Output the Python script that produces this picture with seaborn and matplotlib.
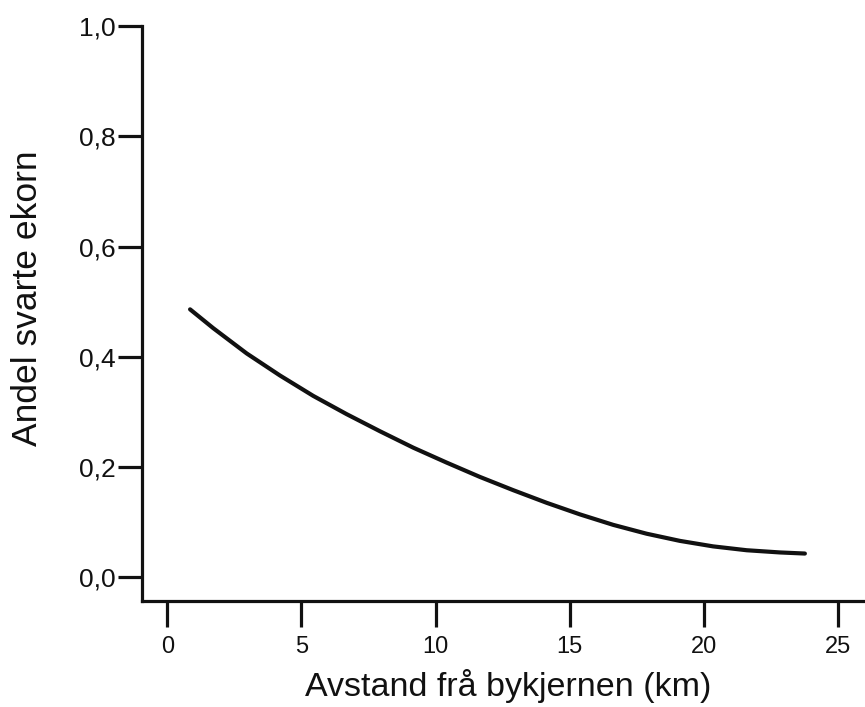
import pandas as pd
import matplotlib.pyplot as plt
import matplotlib.ticker as mticker
import seaborn as sns

# Verdiar lest av frå figuren
avstand_km = [0.85, 1.71, 2.96, 4.20, 5.44, 6.68, 7.92, 9.17, 10.41, 11.65,
              12.89, 14.14, 15.38, 16.62, 17.86, 19.10, 20.34, 21.59, 22.83, 23.76]
andel_svarte = [0.486, 0.452, 0.406, 0.366, 0.329, 0.296, 0.265, 0.235, 0.208, 0.182,
                0.158, 0.135, 0.114, 0.095, 0.079, 0.066, 0.056, 0.049, 0.045, 0.043]
x_ticks = [0, 5, 10, 15, 20, 25]
y_ticks = [0.0, 0.2, 0.4, 0.6, 0.8, 1.0]

data = pd.DataFrame({'avstand': avstand_km, 'andel': andel_svarte})

sns.set_style("ticks")
plt.rcParams['font.family'] = ['Liberation Sans', 'DejaVu Sans']

fig = plt.figure(figsize=(8.65, 7.07), dpi=100)
ax = fig.add_axes([0.1642, 0.150, 0.8358, 0.8132])

sns.lineplot(x='avstand', y='andel', data=data, ax=ax, color='#111111',
             linewidth=3.0)

ax.set_xlim(-0.94, 26)
ax.set_ylim(-0.043, 1.0)
ax.set_xticks(x_ticks)
ax.set_yticks(y_ticks)
ax.yaxis.set_major_formatter(mticker.FuncFormatter(lambda v, p: f"{v:.1f}".replace('.', ',')))

sns.despine(ax=ax)
for side in ['left', 'bottom']:
    ax.spines[side].set_linewidth(2.3)
    ax.spines[side].set_color('#111111')

ax.tick_params(axis='y', length=17, width=2.3, pad=2, labelsize=19, colors='#111111')
ax.tick_params(axis='x', length=19, width=2.3, pad=6, labelsize=17, colors='#111111')

ax.set_xlabel('Avstand frå bykjernen (km)', fontsize=24.5, labelpad=7, color='#111111')
ax.set_ylabel('Andel svarte ekorn', fontsize=25.5, color='#111111')
ax.yaxis.set_label_coords(-0.135, 0.527)
ax.xaxis.set_label_coords(0.506, -0.118)

plt.savefig('out.png', dpi=100)
